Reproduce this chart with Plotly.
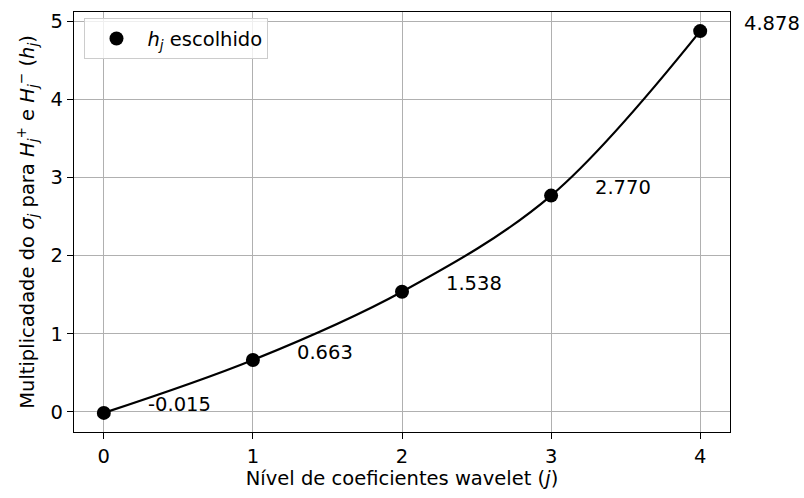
import plotly.graph_objects as go

# Níveis de coeficientes wavelet e multiplicadores escolhidos
niveis = [0, 1, 2, 3, 4]
h_escolhido = [-0.015, 0.663, 1.538, 2.770, 4.878]
rotulos = ["-0.015", "0.663", "1.538", "2.770", "4.878"]
ticks_x = [0, 1, 2, 3, 4]
ticks_y = [0, 1, 2, 3, 4, 5]

FONT = "DejaVu Sans"
FS = 19.5

fig = go.Figure()

# Curva suave ligando os pontos
fig.add_trace(go.Scatter(
    x=niveis, y=h_escolhido, mode="lines",
    line=dict(color="black", width=2.2, shape="spline", smoothing=1.0),
    showlegend=False, hoverinfo="skip",
))

# Pontos escolhidos
fig.add_trace(go.Scatter(
    x=niveis, y=h_escolhido, mode="markers",
    marker=dict(color="black", size=14),
    name="<i>h</i><sub><i>j</i></sub> escolhido",
))

# Rótulos com o valor de cada ponto
for xv, yv, txt in zip(niveis, h_escolhido, rotulos):
    fig.add_annotation(
        x=xv, y=yv, text=txt, showarrow=False,
        xanchor="left", yanchor="middle", xshift=42, yshift=8,
        font=dict(family=FONT, size=FS, color="black"),
    )

ymin, ymax = min(h_escolhido), max(h_escolhido)
pad = 0.05 * (ymax - ymin)

axis_common = dict(
    showgrid=True, gridcolor="#b0b0b0", gridwidth=1,
    showline=True, linecolor="black", linewidth=1.2, mirror=True,
    ticks="outside", ticklen=6, tickwidth=1.2, tickcolor="black",
    tickfont=dict(family=FONT, size=FS, color="black"),
    zeroline=False,
)

fig.update_xaxes(
    range=[-0.2, 4.2], tickvals=ticks_x,
    title=dict(text="Nível de coeficientes wavelet (<i>j</i>)",
               font=dict(family=FONT, size=FS, color="black"), standoff=4),
    **axis_common,
)
fig.update_yaxes(
    range=[ymin - pad, ymax + pad], tickvals=ticks_y,
    title=dict(text="Multiplicadade do <i>σ</i><sub><i>j</i></sub> para "
                    "<i>H</i><sub><i>j</i></sub><sup>+</sup> e "
                    "<i>H</i><sub><i>j</i></sub><sup>−</sup> (<i>h</i><sub><i>j</i></sub>)",
               font=dict(family=FONT, size=FS, color="black"), standoff=10),
    **axis_common,
)

fig.update_layout(
    width=804, height=498,
    margin=dict(l=74, r=74, t=10, b=66),
    paper_bgcolor="white", plot_bgcolor="white",
    font=dict(family=FONT, size=FS, color="black"),
    legend=dict(
        x=0.016, y=0.985, xanchor="left", yanchor="top",
        bgcolor="rgba(255,255,255,0.8)", bordercolor="#cccccc", borderwidth=1,
        itemwidth=52,
        font=dict(family=FONT, size=FS, color="black"),
    ),
)

fig.write_html("out.html")
